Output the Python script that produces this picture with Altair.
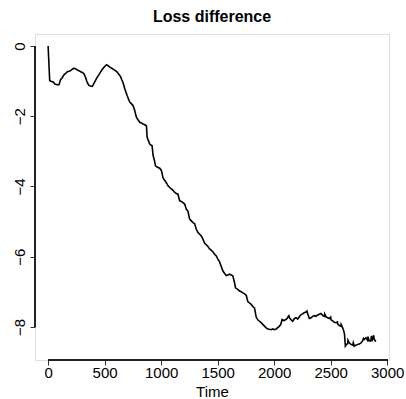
import altair as alt
import pandas as pd

# Cumulative loss difference over time
time = [
    0, 14, 25, 45, 60, 80, 96, 111, 125, 140, 155, 170, 185, 199, 215, 229, 245,
    258, 273, 288, 303, 317, 330, 340, 350, 361, 375, 390, 400, 411, 422, 434,
    449, 464, 475, 487, 500, 517, 530, 546, 563, 581, 596, 611, 625, 641, 652,
    664, 679, 699, 710, 723, 737, 752, 767, 775, 782, 795, 811, 825, 840, 855,
    870, 876, 888, 899, 910, 920, 929, 940, 950, 962, 973, 988, 1003, 1017,
    1032, 1047, 1061, 1076, 1090, 1105, 1120, 1135, 1149, 1164, 1179, 1193,
    1208, 1223, 1237, 1252, 1267, 1282, 1297, 1311, 1326, 1341, 1355, 1370,
    1385, 1400, 1414, 1429, 1444, 1458, 1473, 1488, 1503, 1517, 1532, 1547,
    1562, 1576, 1590, 1605, 1620, 1635, 1650, 1658, 1680, 1694, 1709, 1723,
    1738, 1753, 1767, 1782, 1797, 1811, 1826, 1841, 1855, 1870, 1885, 1899,
    1914, 1929, 1944, 1958, 1973, 1988, 2003, 2017, 2032, 2047, 2060, 2070,
    2085, 2100, 2115, 2125, 2130, 2135, 2150, 2164, 2180, 2194, 2208, 2221,
    2238, 2252, 2265, 2282, 2290, 2296, 2311, 2326, 2340, 2356, 2370, 2385,
    2400, 2414, 2430, 2444, 2447, 2460, 2474, 2488, 2500, 2503, 2518, 2532,
    2547, 2560, 2562, 2576, 2590, 2592, 2605, 2614, 2622, 2630, 2640, 2650,
    2653, 2665, 2680, 2695, 2700, 2709, 2723, 2738, 2753, 2768, 2782, 2790,
    2797, 2812, 2826, 2830, 2841, 2856, 2860, 2870, 2880, 2885, 2895, 2900,
]
loss_diff = [
    0.00, -0.98, -1.00, -1.02, -1.08, -1.10, -1.10, -0.95, -0.90, -0.82, -0.78,
    -0.73, -0.72, -0.70, -0.66, -0.63, -0.65, -0.68, -0.70, -0.73, -0.75, -0.79,
    -0.88, -0.98, -1.06, -1.12, -1.14, -1.15, -1.10, -1.03, -0.96, -0.89, -0.82,
    -0.74, -0.68, -0.63, -0.58, -0.53, -0.56, -0.60, -0.63, -0.67, -0.70, -0.74,
    -0.80, -0.87, -0.96, -1.05, -1.22, -1.41, -1.50, -1.60, -1.64, -1.70, -1.84,
    -1.95, -2.03, -2.10, -2.17, -2.19, -2.22, -2.24, -2.27, -2.60, -2.70, -2.79,
    -2.82, -2.84, -3.12, -3.25, -3.41, -3.44, -3.46, -3.48, -3.55, -3.76, -3.83,
    -3.90, -3.98, -4.03, -4.07, -4.11, -4.17, -4.20, -4.22, -4.41, -4.43, -4.46,
    -4.50, -4.65, -4.70, -4.93, -4.98, -5.03, -5.06, -5.22, -5.31, -5.36, -5.41,
    -5.50, -5.62, -5.66, -5.71, -5.78, -5.82, -5.86, -5.93, -5.98, -6.08, -6.15,
    -6.28, -6.41, -6.48, -6.54, -6.52, -6.50, -6.52, -6.55, -6.75, -6.89, -6.94,
    -6.98, -7.00, -7.03, -7.06, -7.10, -7.28, -7.32, -7.36, -7.42, -7.46, -7.72,
    -7.80, -7.84, -7.88, -7.93, -7.98, -8.03, -8.06, -8.07, -8.08, -8.06, -8.08,
    -8.06, -8.02, -7.98, -7.92, -7.79, -7.82, -7.80, -7.76, -7.70, -7.68, -7.74,
    -7.80, -7.84, -7.76, -7.74, -7.78, -7.72, -7.65, -7.63, -7.60, -7.58, -7.55,
    -7.62, -7.76, -7.74, -7.70, -7.68, -7.70, -7.66, -7.64, -7.62, -7.68, -7.70,
    -7.63, -7.72, -7.74, -7.76, -7.72, -7.80, -7.83, -7.87, -7.88, -7.86, -7.92,
    -7.96, -7.98, -7.93, -8.02, -8.10, -8.20, -8.55, -8.50, -8.48, -8.38, -8.46,
    -8.50, -8.52, -8.45, -8.55, -8.52, -8.50, -8.49, -8.46, -8.40, -8.33, -8.36,
    -8.31, -8.38, -8.28, -8.40, -8.40, -8.26, -8.36, -8.24, -8.35, -8.40, -8.38,
]

df = pd.DataFrame({"Time": time, "Loss": loss_diff})

FONT = "Liberation Sans"
W, H = 354, 326
x_scale = alt.Scale(domain=[-116, 3016], nice=False, zero=False)
y_scale = alt.Scale(domain=[-8.944, 0.344], nice=False, zero=False)

line = alt.Chart(df).mark_line(color="black", strokeWidth=1.6, clip=True).encode(
    x=alt.X(
        "Time:Q",
        scale=x_scale,
        axis=alt.Axis(
            title="Time",
            values=[0, 500, 1000, 1500, 2000, 2500, 3000],
            format="d",
            domain=False,
            grid=False,
            tickSize=5,
            tickColor="#333",
            labelFont=FONT,
            labelFontSize=15,
            labelColor="black",
            labelPadding=0,
            labelFlush=False,
            titleFont=FONT,
            titleFontSize=15,
            titleFontWeight="normal",
            titleColor="black",
            titlePadding=4,
        ),
    ),
    y=alt.Y(
        "Loss:Q",
        scale=y_scale,
        axis=alt.Axis(
            title=None,
            values=[0, -2, -4, -6, -8],
            format="d",
            domain=False,
            grid=False,
            tickSize=5,
            tickColor="#333",
            labelFont=FONT,
            labelFontSize=15,
            labelColor="black",
            labelAngle=-90,
            labelAlign="center",
            labelBaseline="alphabetic",
            labelPadding=6,
            labelFlush=False,
        ),
    ),
)

# R-style axis lines spanning only the outer ticks
x_axis_line = alt.Chart(df).mark_rule(color="#222", strokeWidth=1).encode(
    x=alt.datum(0, scale=x_scale),
    x2=alt.datum(3000),
    y=alt.value(H),
)
y_axis_line = alt.Chart(df).mark_rule(color="#222", strokeWidth=1).encode(
    y=alt.datum(0, scale=y_scale),
    y2=alt.datum(-8),
    x=alt.value(0),
)

chart = (
    alt.layer(line, x_axis_line, y_axis_line)
    .properties(
        width=W,
        height=H,
        title=alt.TitleParams(
            "Loss difference",
            font=FONT,
            fontSize=16,
            fontWeight="bold",
            color="black",
            anchor="middle",
            baseline="alphabetic",
            offset=12,
            dy=16,
        ),
        autosize=alt.AutoSizeParams(type="none"),
        padding={"left": 35, "top": 34, "right": 17, "bottom": 39},
    )
    .configure_view(stroke="#555", strokeWidth=1)
    .configure(background="white")
)

chart.save("out.html", embed_options={"renderer": "svg", "actions": False})
